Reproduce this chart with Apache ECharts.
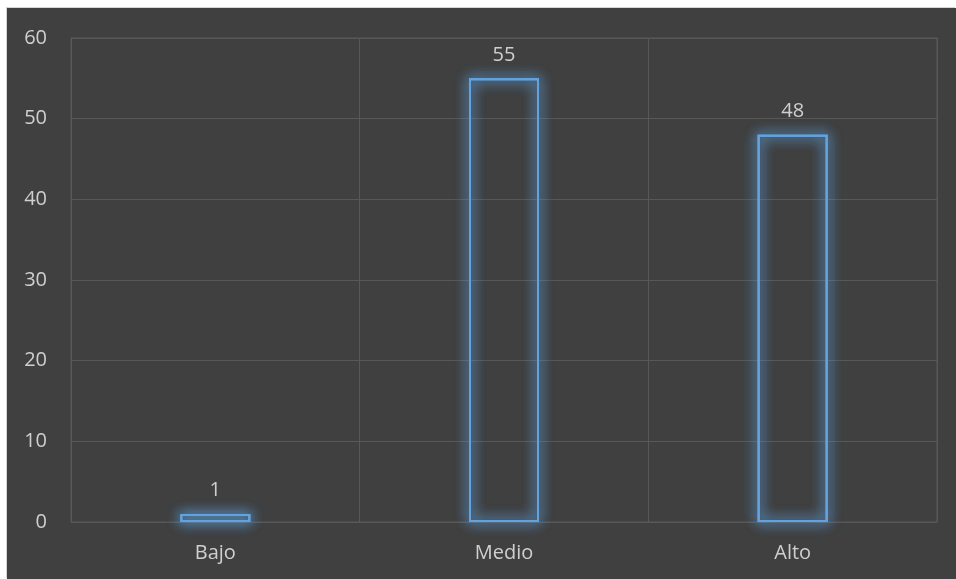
<!DOCTYPE html>
<html>
<head>
<meta charset="utf-8">
<script src="https://cdn.jsdelivr.net/npm/echarts@6/dist/echarts.min.js"></script>
<style>
  html, body { margin: 0; padding: 0; background: #ffffff; width: 956px; height: 579px; overflow: hidden; }
  #chart { position: absolute; left: 7px; top: 8px; width: 949px; height: 571px;
           background: #404040; box-shadow: -1px -1px 0 #d4d4d4; }
</style>
</head>
<body>
<div id="chart"></div>
<script>
// Nivel categories and their counts
const categories = ['Bajo', 'Medio', 'Alto'];
const counts = [1, 55, 48];
// Value axis range and step
const yMin = 0;
const yMax = 60;
const yStep = 10;

const textColor = '#cfcfcf';
const gridColor = '#585858';
const fontFamily = '"Open Sans", sans-serif';
const fontSize = 20;

// outline-only bar with a blue glow; fill 'none' lets the stroke carry the shadow
function outlineBar(extra) {
  return Object.assign({
    type: 'bar',
    data: counts,
    barWidth: 70,
    barGap: '-100%',
    itemStyle: {
      color: 'none',
      borderColor: '#62a3df',
      borderWidth: 2,
      shadowBlur: 13,
      shadowColor: 'rgba(91,155,213,1)'
    }
  }, extra);
}

const chart = echarts.init(document.getElementById('chart'), null, { renderer: 'canvas' });
chart.setOption({
  backgroundColor: '#404040',
  animation: false,
  grid: {
    left: 64, right: 19, top: 30, bottom: 57,
    show: true, borderColor: gridColor, borderWidth: 1
  },
  xAxis: {
    type: 'category',
    data: categories,
    axisLine: { show: false },
    axisTick: { show: false },
    splitLine: { show: true, lineStyle: { color: gridColor, width: 1 } },
    axisLabel: { color: textColor, fontSize: fontSize, fontFamily: fontFamily, margin: 21 }
  },
  yAxis: {
    type: 'value',
    min: yMin, max: yMax, interval: yStep,
    axisLine: { show: false },
    axisTick: { show: false },
    splitLine: { show: true, lineStyle: { color: gridColor, width: 1 } },
    axisLabel: { color: textColor, fontSize: fontSize, fontFamily: fontFamily, margin: 24 }
  },
  series: [
    outlineBar({ silent: true }),
    outlineBar({ silent: true }),
    outlineBar({
      label: {
        show: true,
        position: 'top',
        distance: 12,
        color: textColor,
        fontSize: fontSize,
        fontFamily: fontFamily
      }
    })
  ]
});
</script>
</body>
</html>
